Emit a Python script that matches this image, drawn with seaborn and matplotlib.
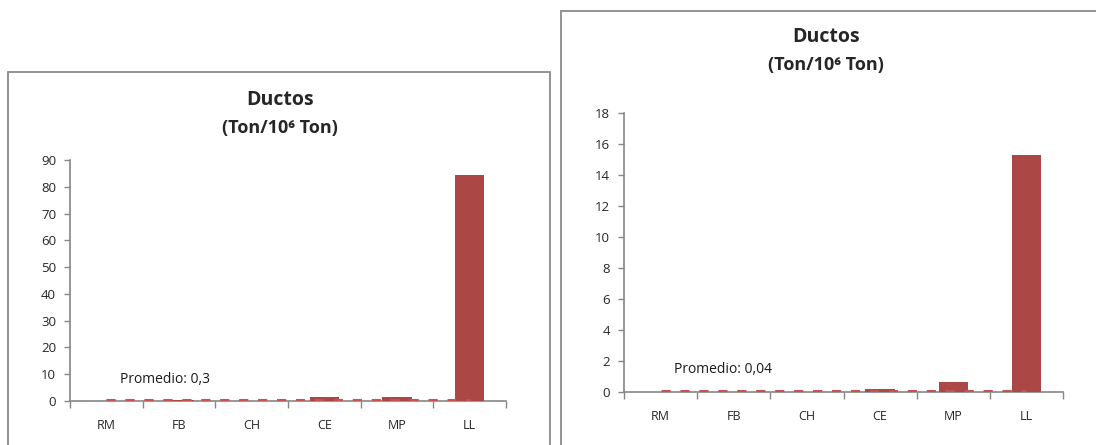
import numpy as np
import matplotlib
matplotlib.use("Agg")
import matplotlib.pyplot as plt
from matplotlib.patches import Rectangle
import seaborn as sns

categories = ["RM", "FB", "CH", "CE", "MP", "LL"]

# left chart
left_values = [0.1, 0.2, 0.1, 1.6, 1.6, 84.3]
left_avg = 0.3
left_avg_label = "Promedio: 0,3"
left_yticks = [0, 10, 20, 30, 40, 50, 60, 70, 80, 90]

# right chart
right_values = [0.02, 0.03, -0.03, 0.2, 0.65, 15.3]
right_avg = 0.04
right_avg_label = "Promedio: 0,04"
right_yticks = [0, 2, 4, 6, 8, 10, 12, 14, 16, 18]

title = "Ductos"
subtitle = "(Ton/10\u2076 Ton)"

sns.set_style("white")
plt.rcParams["font.family"] = ["Open Sans", "DejaVu Sans"]

bar_color = "#AB4845"
line_color = "#C9524F"
axis_color = "#868686"

W, H = 1096, 445
fig = plt.figure(figsize=(W / 100, H / 100), dpi=100)


def px_axes(x0, x1, y_top, y_bottom):
    return fig.add_axes([x0 / W, 1 - y_bottom / H, (x1 - x0) / W, (y_bottom - y_top) / H])


def draw_panel(ax, values, avg, avg_label, yticks, label_y):
    n = len(categories)
    sns.barplot(x=categories, y=values, color=bar_color, width=0.4,
                saturation=1, ax=ax, zorder=3, edgecolor="none")
    ax.plot(np.arange(n), [avg] * n, color=line_color, lw=2.2,
            dashes=(3, 3.2), zorder=4)
    ax.text(0.19, label_y, avg_label, fontsize=10, va="center", ha="left",
            color="#1a1a1a")
    ax.set_xlim(-0.5, n - 0.5)
    ax.set_ylim(yticks[0], yticks[-1])
    ax.set_yticks(yticks)
    ax.set_xticks(np.arange(n + 1) - 0.5)
    ax.set_xticklabels([])
    ax.set_xticks(np.arange(n), minor=True)
    ax.set_xticklabels(categories, minor=True)
    ax.tick_params(axis="x", which="major", direction="out", length=5,
                   width=1, color=axis_color, bottom=True)
    ax.tick_params(axis="x", which="minor", length=0, pad=13, labelsize=9)
    ax.tick_params(axis="y", direction="out", length=4, width=1,
                   color=axis_color, left=True, pad=6, labelsize=9.5)
    for side in ["top", "right"]:
        ax.spines[side].set_visible(False)
    for side in ["left", "bottom"]:
        ax.spines[side].set_color(axis_color)
        ax.spines[side].set_linewidth(1.2)
    ax.set_xlabel("")
    ax.set_ylabel("")
    ax.grid(False)


# panel frames
fig.patches.append(Rectangle((8 / W, -0.1), (550 - 8) / W, 1.1 - 72 / H,
                             transform=fig.transFigure, fill=False,
                             edgecolor="#8a8a8a", lw=1.3))
fig.patches.append(Rectangle((561 / W, -0.1), (1100 - 561) / W, 1.1 - 11 / H,
                             transform=fig.transFigure, fill=False,
                             edgecolor="#8a8a8a", lw=1.3))

ax1 = px_axes(70, 506, 160, 401)
draw_panel(ax1, left_values, left_avg, left_avg_label, left_yticks, 8.2)

ax2 = px_axes(624, 1063, 113, 392)
draw_panel(ax2, right_values, right_avg, right_avg_label, right_yticks, 1.42)

fig.text(280 / W, 1 - 100 / H, title, ha="center", va="center",
         fontsize=14, fontweight="bold")
fig.text(280 / W, 1 - 128 / H, subtitle, ha="center", va="center",
         fontsize=13, fontweight="bold")
fig.text(826 / W, 1 - 37 / H, title, ha="center", va="center",
         fontsize=14, fontweight="bold")
fig.text(826 / W, 1 - 65 / H, subtitle, ha="center", va="center",
         fontsize=13, fontweight="bold")

fig.savefig("out.png", dpi=100)
